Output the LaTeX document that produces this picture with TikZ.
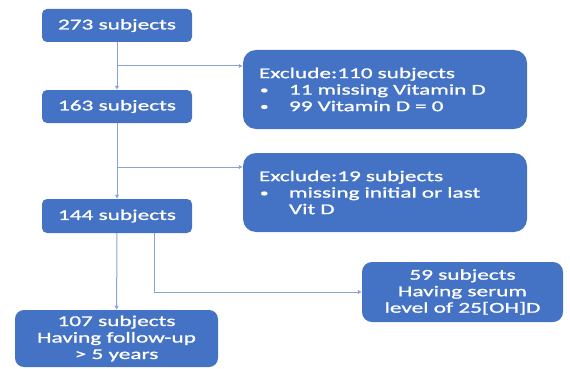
\documentclass[tikz,border=0pt]{standalone}
\usepackage{fontspec}
\setmainfont{Carlito}[FakeStretch=1.55,FakeBold=1.2]
\usetikzlibrary{positioning,calc,arrows.meta}
\definecolor{boxblue}{RGB}{68,114,196}
\definecolor{lineblue}{RGB}{135,163,216}
\newcommand{\bul}[1]{\makebox[30pt][l]{\hspace{1pt}\raisebox{1pt}{\scalebox{0.75}{\textbullet}}}#1}

\begin{document}
\begin{tikzpicture}[x=1pt,y=-1pt,
  stepbox/.style={fill=boxblue,text=white,align=center,inner sep=0pt,
    font=\fontsize{15}{16.5}\selectfont,rounded corners=5pt},
  exbox/.style={stepbox,align=left,text width=252pt,inner xsep=16pt,
    minimum height=79pt,rounded corners=13pt},
  link/.style={draw=lineblue,line width=1pt},
  arr/.style={link,-{Latex[length=4pt,width=4.5pt]}}]
\useasboundingbox (0,0) rectangle (570,369);
% main column
\node[stepbox,minimum width=150pt,minimum height=33pt] (n273) at (117,25.5) {273 subjects};
\node[stepbox,minimum width=150pt,minimum height=33pt] (n163) at (117,106.5) {163 subjects};
\node[stepbox,minimum width=150pt,minimum height=34pt] (n144) at (117,216) {144 subjects};
\node[stepbox,minimum width=203pt,minimum height=57pt,rounded corners=9pt] (n107) at (116.5,338.5)
  {107 subjects\\Having follow-up\\> 5 years};
% exclusions
\node[exbox] (ex110) at (385,89.5)
  {Exclude:110 subjects\\\bul{11 missing Vitamin D}\\\bul{99 Vitamin D = 0}};
\node[exbox] (ex19) at (385,192.5)
  {Exclude:19 subjects\\\bul{missing initial or last}\\\hspace*{30pt}Vit D};
% serum level
\node[stepbox,minimum width=201pt,minimum height=60pt,rounded corners=10pt] (n59) at (462.5,292)
  {59 subjects\\Having serum\\level of 25[OH]D};
% connectors
\coordinate (j1) at (117,66);
\coordinate (j2) at (117,167);
\draw[arr] (n273) -- (n163);
\draw[arr] (j1) -- (j1 -| ex110.west);
\draw[arr] (n163) -- (n144);
\draw[arr] (j2) -- (j2 -| ex19.west);
\draw[arr] (n144) -- (n107);
\draw[arr] ([xshift=37pt]n144.south) |- (n59.west);
\end{tikzpicture}
\end{document}
